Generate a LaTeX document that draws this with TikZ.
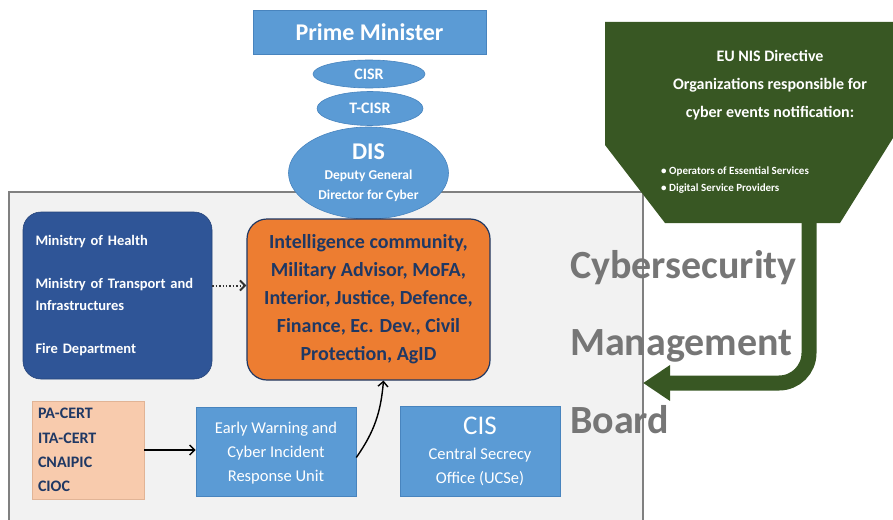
\documentclass[tikz,border=0pt]{standalone}
\usepackage{fontspec}
\setmainfont{Carlito}
\usetikzlibrary{arrows.meta,shapes.geometric}
\definecolor{lblue}{RGB}{91,155,213}
\definecolor{lblueedge}{RGB}{72,132,190}
\definecolor{dblue}{RGB}{47,85,151}
\definecolor{orng}{RGB}{237,125,49}
\definecolor{navy}{RGB}{31,56,100}
\definecolor{peach}{RGB}{248,203,173}
\definecolor{peachedge}{RGB}{225,180,150}
\definecolor{grn}{RGB}{56,87,35}
\definecolor{boardfill}{RGB}{242,242,242}
\definecolor{boardedge}{RGB}{128,128,128}
\definecolor{titlegray}{RGB}{118,118,118}
\tikzset{
  boardbox/.style={draw=boardedge, line width=2pt, fill=boardfill, minimum width=634pt, minimum height=340pt, inner sep=0pt},
  bluebox/.style={fill=lblue, draw=lblueedge, line width=0.6pt, text=white, align=center, inner sep=0pt},
  blueell/.style={ellipse, fill=lblue, draw=lblueedge, line width=0.6pt, text=white, align=center, inner sep=0pt, font=\bfseries},
  ministrybox/.style={fill=dblue, draw=dblue!80!black, line width=0.6pt, rounded corners=18pt, text=white, align=left, font=\bfseries\fontsize{14.5}{21.5}\selectfont, minimum width=189pt, minimum height=167pt, text width=164pt, inner sep=0pt},
  orangebox/.style={fill=orng, draw=navy, line width=1.2pt, rounded corners=20pt, text=navy, align=center, font=\bfseries\fontsize{20}{28}\selectfont, minimum width=243pt, minimum height=161pt, inner sep=0pt},
  peachbox/.style={fill=peach, draw=peachedge, line width=0.6pt, text=navy, align=left, font=\bfseries\fontsize{16}{24.3}\selectfont, minimum width=112pt, minimum height=98pt, text width=100pt, inner sep=0pt},
  boardtitle/.style={text=titlegray, font=\bfseries\fontsize{40}{40}\selectfont, inner sep=0pt, anchor=base west},
  conn/.style={line width=1.4pt, -{Straight Barb[length=5pt,width=10pt]}},
  garrow/.style={draw=grn, line width=15pt, rounded corners=30pt, -{Triangle[length=27pt,width=34pt]}},
}
\begin{document}
\begin{tikzpicture}[x=1pt,y=-1pt]
\useasboundingbox (0,0) rectangle (893,519);
% board
\node[boardbox] (board) at (326,362) {};
% title of board
\node[boardtitle] (cyb1) at (570,278) {Cybersecurity};
\node[boardtitle] (cyb2) at (570,355) {Management};
\node[boardtitle] (cyb3) at (570,433) {Board};
% top hierarchy
\node[bluebox, minimum width=233pt, minimum height=44pt, font=\bfseries\fontsize{24}{24}\selectfont] (pm) at (369.5,32) {Prime Minister};
\node[blueell, minimum width=112pt, minimum height=28pt, font=\bfseries\fontsize{16}{16}\selectfont] (cisr) at (369,74) {CISR};
\node[blueell, minimum width=106pt, minimum height=34pt, font=\bfseries\fontsize{16}{16}\selectfont] (tcisr) at (370,108.5) {T-CISR};
\node[blueell, minimum width=160pt, minimum height=92pt, font=\bfseries\fontsize{13.5}{20}\selectfont] (dis) at (368.5,173) {{\fontsize{24}{24}\selectfont DIS}\\Deputy General\\Director for Cyber};
% ministries
\node[ministrybox] (ministry) at (117.5,295.5) {Ministry of Health\\[21.5pt]Ministry of Transport and\\Infrastructures\\[21.5pt]Fire Department};
% orange
\node[orangebox] (orange) at (368.5,299.5) {Intelligence community,\\Military Advisor, MoFA,\\Interior, Justice, Defence,\\Finance, Ec. Dev., Civil\\Protection, AgID};
% bottom row
\node[peachbox] (pacert) at (88,450) {PA-CERT\\ITA-CERT\\CNAIPIC\\CIOC};
\node[bluebox, minimum width=160pt, minimum height=89pt, font=\fontsize{16.5}{24}\selectfont] (ew) at (276,451.5) {\rule{0pt}{14pt}Early Warning and\\Cyber Incident\\Response Unit};
\node[bluebox, minimum width=160pt, minimum height=90pt, font=\fontsize{16.5}{24}\selectfont] (cis) at (480,451) {{\fontsize{27}{27}\selectfont CIS}\\[1pt]Central Secrecy\\Office (UCSe)};
% connectors inside board
\draw[conn, dotted, line width=2pt, draw=black!80] ([yshift=10pt]ministry.east) -- ([yshift=10pt]ministry.east -| orange.west);
\draw[conn] (pacert.east) -- (pacert.east -| ew.west);
\draw[conn] ([yshift=-6pt]ew.east) to[out=55,in=-95] ([xshift=15pt]orange.south);
% EU NIS funnel
\fill[grn] (605,22) -- (893,22) -- (893,138) -- (840,223) -- (665,223) -- (605,145) -- cycle;
\node[text=white, align=center, font=\bfseries\fontsize{16}{28}\selectfont, inner sep=0pt] (eunis) at (770,85) {EU NIS Directive\\Organizations responsible for\\cyber events notification:};
\node[text=white, align=left, font=\bfseries\fontsize{11}{17}\selectfont, inner sep=0pt, anchor=west] (bullets) at (661,180) {\textbullet\ Operators of Essential Services\\\textbullet\ Digital Service Providers};
\coordinate (fbot) at (809,220);
\coordinate (gend) at (643,383);
\draw[garrow] (fbot) |- (gend);
\end{tikzpicture}
\end{document}
